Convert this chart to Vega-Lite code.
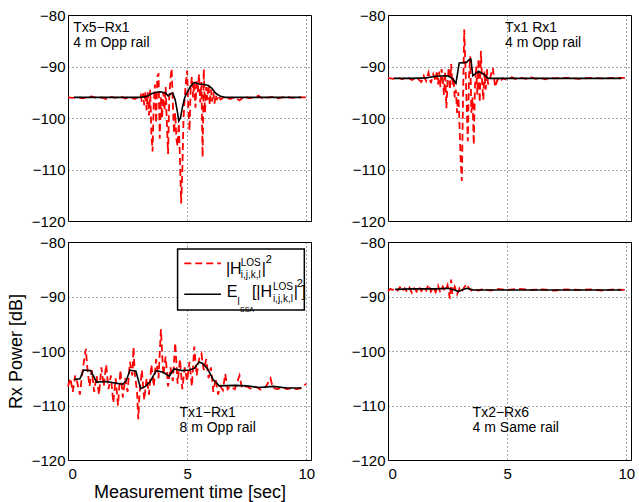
{
  "$schema": "https://vega.github.io/schema/vega-lite/v6.json",
  "padding": {"left": 6, "top": 7, "right": 2, "bottom": 5},
  "background": "white",
  "datasets": {
    "red": [
      {"panel":"A","t":0,"p":-96.0},{"panel":"A","t":0.2,"p":-96.1},{"panel":"A","t":0.4,"p":-95.9},{"panel":"A","t":0.6,"p":-96.2},{"panel":"A","t":0.8,"p":-96.0},{"panel":"A","t":1.0,"p":-95.8},{"panel":"A","t":1.2,"p":-96.1},{"panel":"A","t":1.4,"p":-96.0},{"panel":"A","t":1.6,"p":-96.3},{"panel":"A","t":1.8,"p":-95.9},{"panel":"A","t":2.0,"p":-96.1},{"panel":"A","t":2.2,"p":-95.8},{"panel":"A","t":2.4,"p":-96.2},{"panel":"A","t":2.6,"p":-95.9},{"panel":"A","t":2.8,"p":-96.3},{"panel":"A","t":3.0,"p":-95.8},{"panel":"A","t":3.05,"p":-95.5},{"panel":"A","t":3.1,"p":-96.8},{"panel":"A","t":3.15,"p":-95.2},{"panel":"A","t":3.2,"p":-97.5},{"panel":"A","t":3.25,"p":-94.8},{"panel":"A","t":3.3,"p":-98.5},{"panel":"A","t":3.35,"p":-95.0},{"panel":"A","t":3.4,"p":-99.5},{"panel":"A","t":3.45,"p":-94.5},{"panel":"A","t":3.5,"p":-103},{"panel":"A","t":3.55,"p":-106.5},{"panel":"A","t":3.6,"p":-97},{"panel":"A","t":3.65,"p":-93.5},{"panel":"A","t":3.7,"p":-101},{"panel":"A","t":3.75,"p":-92},{"panel":"A","t":3.8,"p":-91.3},{"panel":"A","t":3.85,"p":-104},{"panel":"A","t":3.9,"p":-96},{"panel":"A","t":3.95,"p":-100},{"panel":"A","t":4.0,"p":-95},{"panel":"A","t":4.05,"p":-98.5},{"panel":"A","t":4.1,"p":-94},{"panel":"A","t":4.15,"p":-101},{"panel":"A","t":4.2,"p":-107},{"panel":"A","t":4.25,"p":-96},{"panel":"A","t":4.3,"p":-92.5},{"panel":"A","t":4.35,"p":-90.4},{"panel":"A","t":4.4,"p":-97},{"panel":"A","t":4.45,"p":-103},{"panel":"A","t":4.5,"p":-99},{"panel":"A","t":4.55,"p":-104},{"panel":"A","t":4.6,"p":-105.5},{"panel":"A","t":4.65,"p":-101},{"panel":"A","t":4.7,"p":-108},{"panel":"A","t":4.75,"p":-116.6},{"panel":"A","t":4.8,"p":-110},{"panel":"A","t":4.85,"p":-100},{"panel":"A","t":4.9,"p":-96},{"panel":"A","t":4.95,"p":-93},{"panel":"A","t":5.0,"p":-90.8},{"panel":"A","t":5.05,"p":-98},{"panel":"A","t":5.1,"p":-102.5},{"panel":"A","t":5.15,"p":-94},{"panel":"A","t":5.2,"p":-92},{"panel":"A","t":5.25,"p":-96},{"panel":"A","t":5.3,"p":-93},{"panel":"A","t":5.35,"p":-98},{"panel":"A","t":5.4,"p":-92.5},{"panel":"A","t":5.45,"p":-95},{"panel":"A","t":5.5,"p":-91.5},{"panel":"A","t":5.55,"p":-97},{"panel":"A","t":5.6,"p":-93},{"panel":"A","t":5.65,"p":-107.6},{"panel":"A","t":5.7,"p":-90.5},{"panel":"A","t":5.75,"p":-99},{"panel":"A","t":5.8,"p":-94},{"panel":"A","t":5.85,"p":-96.5},{"panel":"A","t":5.9,"p":-93.5},{"panel":"A","t":5.95,"p":-97.5},{"panel":"A","t":6.0,"p":-94.5},{"panel":"A","t":6.05,"p":-96.8},{"panel":"A","t":6.1,"p":-95},{"panel":"A","t":6.15,"p":-97.2},{"panel":"A","t":6.2,"p":-95.5},{"panel":"A","t":6.25,"p":-96.5},{"panel":"A","t":6.3,"p":-95.6},{"panel":"A","t":6.4,"p":-96.4},{"panel":"A","t":6.6,"p":-95.8},{"panel":"A","t":6.8,"p":-96.3},{"panel":"A","t":7.0,"p":-96.0},{"panel":"A","t":7.2,"p":-96.6},{"panel":"A","t":7.4,"p":-95.8},{"panel":"A","t":7.6,"p":-96.2},{"panel":"A","t":7.8,"p":-96.0},{"panel":"A","t":8.0,"p":-95.7},{"panel":"A","t":8.2,"p":-96.3},{"panel":"A","t":8.4,"p":-96.0},{"panel":"A","t":8.6,"p":-95.9},{"panel":"A","t":8.8,"p":-96.2},{"panel":"A","t":9.0,"p":-96.0},{"panel":"A","t":9.2,"p":-95.9},{"panel":"A","t":9.4,"p":-96.1},{"panel":"A","t":9.6,"p":-96.0},{"panel":"A","t":9.8,"p":-96.0},{"panel":"A","t":10.0,"p":-96.0},

      {"panel":"B","t":0,"p":-92.2},{"panel":"B","t":0.2,"p":-92.4},{"panel":"B","t":0.4,"p":-92.1},{"panel":"B","t":0.6,"p":-92.5},{"panel":"B","t":0.8,"p":-92.0},{"panel":"B","t":1.0,"p":-92.6},{"panel":"B","t":1.2,"p":-92.2},{"panel":"B","t":1.4,"p":-93.0},{"panel":"B","t":1.5,"p":-91.8},{"panel":"B","t":1.6,"p":-92.8},{"panel":"B","t":1.7,"p":-91.2},{"panel":"B","t":1.8,"p":-93.2},{"panel":"B","t":1.9,"p":-91.5},{"panel":"B","t":2.0,"p":-92.9},{"panel":"B","t":2.05,"p":-90.8},{"panel":"B","t":2.1,"p":-93.5},{"panel":"B","t":2.15,"p":-91.0},{"panel":"B","t":2.2,"p":-94.0},{"panel":"B","t":2.25,"p":-90.5},{"panel":"B","t":2.3,"p":-92.5},{"panel":"B","t":2.35,"p":-95.5},{"panel":"B","t":2.4,"p":-91.0},{"panel":"B","t":2.45,"p":-98.1},{"panel":"B","t":2.5,"p":-93.0},{"panel":"B","t":2.55,"p":-90.2},{"panel":"B","t":2.6,"p":-94.5},{"panel":"B","t":2.65,"p":-89.5},{"panel":"B","t":2.7,"p":-93.5},{"panel":"B","t":2.75,"p":-92.0},{"panel":"B","t":2.8,"p":-96.0},{"panel":"B","t":2.85,"p":-94.5},{"panel":"B","t":2.9,"p":-99.0},{"panel":"B","t":2.95,"p":-95.0},{"panel":"B","t":3.0,"p":-101.0},{"panel":"B","t":3.05,"p":-108.0},{"panel":"B","t":3.1,"p":-112.2},{"panel":"B","t":3.15,"p":-96.0},{"panel":"B","t":3.2,"p":-82.8},{"panel":"B","t":3.25,"p":-90.0},{"panel":"B","t":3.3,"p":-97.0},{"panel":"B","t":3.35,"p":-104.5},{"panel":"B","t":3.4,"p":-92.0},{"panel":"B","t":3.45,"p":-88.0},{"panel":"B","t":3.5,"p":-99.0},{"panel":"B","t":3.55,"p":-96.0},{"panel":"B","t":3.6,"p":-105.2},{"panel":"B","t":3.65,"p":-94.0},{"panel":"B","t":3.7,"p":-90.0},{"panel":"B","t":3.75,"p":-95.5},{"panel":"B","t":3.8,"p":-88.5},{"panel":"B","t":3.85,"p":-97.0},{"panel":"B","t":3.9,"p":-87.0},{"panel":"B","t":3.95,"p":-93.0},{"panel":"B","t":4.0,"p":-96.5},{"panel":"B","t":4.05,"p":-91.0},{"panel":"B","t":4.1,"p":-94.5},{"panel":"B","t":4.15,"p":-90.5},{"panel":"B","t":4.2,"p":-93.5},{"panel":"B","t":4.3,"p":-92.0},{"panel":"B","t":4.4,"p":-90.3},{"panel":"B","t":4.5,"p":-94.0},{"panel":"B","t":4.6,"p":-92.5},{"panel":"B","t":4.7,"p":-93.0},{"panel":"B","t":4.8,"p":-92.3},{"panel":"B","t":5.0,"p":-92.6},{"panel":"B","t":5.2,"p":-92.1},{"panel":"B","t":5.4,"p":-92.5},{"panel":"B","t":5.6,"p":-92.2},{"panel":"B","t":5.8,"p":-92.4},{"panel":"B","t":6.0,"p":-92.1},{"panel":"B","t":6.2,"p":-92.4},{"panel":"B","t":6.4,"p":-92.2},{"panel":"B","t":6.6,"p":-92.5},{"panel":"B","t":6.8,"p":-92.2},{"panel":"B","t":7.0,"p":-92.3},{"panel":"B","t":7.5,"p":-92.2},{"panel":"B","t":8.0,"p":-92.4},{"panel":"B","t":8.5,"p":-92.2},{"panel":"B","t":9.0,"p":-92.3},{"panel":"B","t":9.5,"p":-92.2},{"panel":"B","t":10.0,"p":-92.2},

      {"panel":"C","t":0,"p":-106.5},{"panel":"C","t":0.1,"p":-105},{"panel":"C","t":0.2,"p":-107.5},{"panel":"C","t":0.3,"p":-104.5},{"panel":"C","t":0.4,"p":-106},{"panel":"C","t":0.5,"p":-108},{"panel":"C","t":0.6,"p":-104},{"panel":"C","t":0.7,"p":-101},{"panel":"C","t":0.75,"p":-99.6},{"panel":"C","t":0.8,"p":-102.5},{"panel":"C","t":0.9,"p":-106.5},{"panel":"C","t":1.0,"p":-103.5},{"panel":"C","t":1.1,"p":-107.5},{"panel":"C","t":1.2,"p":-104.5},{"panel":"C","t":1.3,"p":-108},{"panel":"C","t":1.4,"p":-103},{"panel":"C","t":1.5,"p":-106.5},{"panel":"C","t":1.6,"p":-102.5},{"panel":"C","t":1.7,"p":-107},{"panel":"C","t":1.8,"p":-104.5},{"panel":"C","t":1.9,"p":-109.5},{"panel":"C","t":2.0,"p":-105},{"panel":"C","t":2.1,"p":-110},{"panel":"C","t":2.2,"p":-103.5},{"panel":"C","t":2.3,"p":-108.5},{"panel":"C","t":2.4,"p":-105},{"panel":"C","t":2.5,"p":-107.5},{"panel":"C","t":2.6,"p":-102},{"panel":"C","t":2.7,"p":-104.5},{"panel":"C","t":2.75,"p":-99.3},{"panel":"C","t":2.8,"p":-104},{"panel":"C","t":2.9,"p":-107.5},{"panel":"C","t":2.95,"p":-112.5},{"panel":"C","t":3.0,"p":-108},{"panel":"C","t":3.1,"p":-103.5},{"panel":"C","t":3.2,"p":-109},{"panel":"C","t":3.3,"p":-105},{"panel":"C","t":3.4,"p":-108},{"panel":"C","t":3.5,"p":-102.5},{"panel":"C","t":3.6,"p":-106.5},{"panel":"C","t":3.7,"p":-101.5},{"panel":"C","t":3.8,"p":-105},{"panel":"C","t":3.9,"p":-96.0},{"panel":"C","t":4.0,"p":-104.5},{"panel":"C","t":4.1,"p":-101},{"panel":"C","t":4.2,"p":-106.5},{"panel":"C","t":4.3,"p":-103},{"panel":"C","t":4.4,"p":-105.5},{"panel":"C","t":4.5,"p":-98.5},{"panel":"C","t":4.6,"p":-106},{"panel":"C","t":4.7,"p":-101.5},{"panel":"C","t":4.8,"p":-107},{"panel":"C","t":4.9,"p":-103},{"panel":"C","t":5.0,"p":-105.5},{"panel":"C","t":5.1,"p":-102},{"panel":"C","t":5.2,"p":-106.5},{"panel":"C","t":5.3,"p":-99.2},{"panel":"C","t":5.4,"p":-104.5},{"panel":"C","t":5.5,"p":-101.5},{"panel":"C","t":5.6,"p":-100.5},{"panel":"C","t":5.7,"p":-103.5},{"panel":"C","t":5.8,"p":-101.5},{"panel":"C","t":5.9,"p":-105},{"panel":"C","t":6.0,"p":-103},{"panel":"C","t":6.1,"p":-107.5},{"panel":"C","t":6.2,"p":-105},{"panel":"C","t":6.3,"p":-108},{"panel":"C","t":6.4,"p":-106.5},{"panel":"C","t":6.5,"p":-107.2},{"panel":"C","t":6.6,"p":-104.2},{"panel":"C","t":6.7,"p":-107},{"panel":"C","t":6.8,"p":-106.5},{"panel":"C","t":7.0,"p":-107},{"panel":"C","t":7.2,"p":-104.5},{"panel":"C","t":7.3,"p":-106.8},{"panel":"C","t":7.5,"p":-106.5},{"panel":"C","t":7.7,"p":-107},{"panel":"C","t":7.9,"p":-106.6},{"panel":"C","t":8.1,"p":-107.1},{"panel":"C","t":8.3,"p":-106.6},{"panel":"C","t":8.5,"p":-105},{"panel":"C","t":8.6,"p":-106.8},{"panel":"C","t":8.8,"p":-107},{"panel":"C","t":9.0,"p":-106.7},{"panel":"C","t":9.2,"p":-107},{"panel":"C","t":9.4,"p":-106.8},{"panel":"C","t":9.6,"p":-107},{"panel":"C","t":9.8,"p":-106.8},{"panel":"C","t":10.0,"p":-106},

      {"panel":"D","t":0,"p":-89.0},{"panel":"D","t":0.1,"p":-88.6},{"panel":"D","t":0.2,"p":-88.8},{"panel":"D","t":0.3,"p":-88.4},{"panel":"D","t":0.4,"p":-88.9},{"panel":"D","t":0.5,"p":-88.3},{"panel":"D","t":0.6,"p":-89.0},{"panel":"D","t":0.7,"p":-88.5},{"panel":"D","t":0.8,"p":-89.2},{"panel":"D","t":0.9,"p":-88.4},{"panel":"D","t":1.0,"p":-89.3},{"panel":"D","t":1.1,"p":-88.5},{"panel":"D","t":1.2,"p":-89.1},{"panel":"D","t":1.3,"p":-88.2},{"panel":"D","t":1.4,"p":-89.0},{"panel":"D","t":1.5,"p":-88.3},{"panel":"D","t":1.6,"p":-88.9},{"panel":"D","t":1.7,"p":-87.8},{"panel":"D","t":1.8,"p":-89.1},{"panel":"D","t":1.9,"p":-88.3},{"panel":"D","t":2.0,"p":-89.2},{"panel":"D","t":2.1,"p":-88.0},{"panel":"D","t":2.2,"p":-89.3},{"panel":"D","t":2.3,"p":-88.2},{"panel":"D","t":2.4,"p":-89.0},{"panel":"D","t":2.5,"p":-87.9},{"panel":"D","t":2.6,"p":-90.4},{"panel":"D","t":2.65,"p":-86.9},{"panel":"D","t":2.7,"p":-89.5},{"panel":"D","t":2.8,"p":-88.2},{"panel":"D","t":2.9,"p":-89.6},{"panel":"D","t":3.0,"p":-88.5},{"panel":"D","t":3.1,"p":-89.1},{"panel":"D","t":3.2,"p":-88.3},{"panel":"D","t":3.3,"p":-87.7},{"panel":"D","t":3.4,"p":-88.5},{"panel":"D","t":3.5,"p":-88.9},{"panel":"D","t":3.6,"p":-88.6},{"panel":"D","t":3.8,"p":-88.9},{"panel":"D","t":4.0,"p":-88.6},{"panel":"D","t":4.3,"p":-88.9},{"panel":"D","t":4.6,"p":-88.6},{"panel":"D","t":5.0,"p":-88.8},{"panel":"D","t":5.5,"p":-88.6},{"panel":"D","t":6.0,"p":-88.8},{"panel":"D","t":6.5,"p":-88.7},{"panel":"D","t":7.0,"p":-88.9},{"panel":"D","t":7.5,"p":-88.7},{"panel":"D","t":8.0,"p":-88.8},{"panel":"D","t":8.5,"p":-88.7},{"panel":"D","t":9.0,"p":-88.9},{"panel":"D","t":9.5,"p":-88.7},{"panel":"D","t":10.0,"p":-88.8}
    ],
    "black": [
      {"panel":"A","t":0.25,"p":-96},{"panel":"A","t":1,"p":-96},{"panel":"A","t":2,"p":-96},{"panel":"A","t":3,"p":-96},{"panel":"A","t":3.3,"p":-95.8},{"panel":"A","t":3.5,"p":-95.3},{"panel":"A","t":3.7,"p":-95.0},{"panel":"A","t":3.9,"p":-94.9},{"panel":"A","t":4.1,"p":-95.2},{"panel":"A","t":4.2,"p":-95.7},{"panel":"A","t":4.3,"p":-95.3},{"panel":"A","t":4.4,"p":-95.2},{"panel":"A","t":4.5,"p":-96.5},{"panel":"A","t":4.6,"p":-99},{"panel":"A","t":4.65,"p":-100.6},{"panel":"A","t":4.72,"p":-100},{"panel":"A","t":4.8,"p":-98},{"panel":"A","t":4.9,"p":-96},{"panel":"A","t":5.0,"p":-95},{"panel":"A","t":5.15,"p":-93.8},{"panel":"A","t":5.3,"p":-93.1},{"panel":"A","t":5.5,"p":-93.4},{"panel":"A","t":5.7,"p":-93.5},{"panel":"A","t":5.9,"p":-93.7},{"panel":"A","t":6.05,"p":-94.3},{"panel":"A","t":6.2,"p":-95.2},{"panel":"A","t":6.4,"p":-95.8},{"panel":"A","t":6.6,"p":-96},{"panel":"A","t":7,"p":-96},{"panel":"A","t":8,"p":-96},{"panel":"A","t":9,"p":-96},{"panel":"A","t":9.8,"p":-96},

      {"panel":"B","t":0.25,"p":-92.3},{"panel":"B","t":1,"p":-92.3},{"panel":"B","t":1.6,"p":-92.2},{"panel":"B","t":2.0,"p":-91.9},{"panel":"B","t":2.5,"p":-91.8},{"panel":"B","t":2.7,"p":-92.3},{"panel":"B","t":2.85,"p":-93.3},{"panel":"B","t":2.99,"p":-89.3},{"panel":"B","t":3.3,"p":-89.2},{"panel":"B","t":3.4,"p":-88.7},{"panel":"B","t":3.48,"p":-88.6},{"panel":"B","t":3.56,"p":-91.8},{"panel":"B","t":3.8,"p":-90.9},{"panel":"B","t":4.05,"p":-91.6},{"panel":"B","t":4.2,"p":-92.3},{"panel":"B","t":5,"p":-92.3},{"panel":"B","t":7,"p":-92.3},{"panel":"B","t":9.8,"p":-92.3},

      {"panel":"C","t":0.27,"p":-105.2},{"panel":"C","t":0.5,"p":-105.1},{"panel":"C","t":0.65,"p":-103.5},{"panel":"C","t":0.95,"p":-103.6},{"panel":"C","t":1.2,"p":-105.7},{"panel":"C","t":1.6,"p":-105.6},{"panel":"C","t":2.0,"p":-105.9},{"panel":"C","t":2.3,"p":-106.1},{"panel":"C","t":2.45,"p":-105.4},{"panel":"C","t":2.6,"p":-103.5},{"panel":"C","t":2.85,"p":-103.7},{"panel":"C","t":3.05,"p":-106.9},{"panel":"C","t":3.25,"p":-106.5},{"panel":"C","t":3.45,"p":-105.6},{"panel":"C","t":3.7,"p":-103.6},{"panel":"C","t":4.0,"p":-103.9},{"panel":"C","t":4.25,"p":-104.6},{"panel":"C","t":4.45,"p":-103.3},{"panel":"C","t":4.8,"p":-103.6},{"panel":"C","t":5.1,"p":-103.5},{"panel":"C","t":5.3,"p":-103.2},{"panel":"C","t":5.5,"p":-102.0},{"panel":"C","t":5.65,"p":-102.3},{"panel":"C","t":5.85,"p":-103.2},{"panel":"C","t":6.1,"p":-105.3},{"panel":"C","t":6.35,"p":-106.4},{"panel":"C","t":7.0,"p":-106.3},{"panel":"C","t":7.5,"p":-106.4},{"panel":"C","t":8.0,"p":-106.7},{"panel":"C","t":8.6,"p":-106.5},{"panel":"C","t":9.2,"p":-106.8},{"panel":"C","t":9.8,"p":-106.8},

      {"panel":"D","t":0.3,"p":-88.7},{"panel":"D","t":1,"p":-88.6},{"panel":"D","t":2,"p":-88.6},{"panel":"D","t":2.5,"p":-88.5},{"panel":"D","t":2.8,"p":-88.8},{"panel":"D","t":2.95,"p":-89.1},{"panel":"D","t":3.1,"p":-88.8},{"panel":"D","t":3.3,"p":-88.5},{"panel":"D","t":3.6,"p":-88.8},{"panel":"D","t":5,"p":-88.8},{"panel":"D","t":9.8,"p":-88.8}
    ]
  },
  "columns": 2,
  "bounds": "flush",
  "spacing": {"row": 21, "column": 77},
  "concat": [
    {
      "width": 243, "height": 206,
      "layer": [
        {"data": {"name": "red"}, "transform": [{"filter": "datum.panel == 'A'"}],
         "mark": {"type": "line", "stroke": "#ff0000", "strokeDash": [7, 4], "strokeWidth": 1.8},
         "encoding": {
           "x": {"field": "t", "type": "quantitative", "scale": {"domain": [0, 10.2], "nice": false}, "axis": {"values": [0, 5, 10], "labels": false, "title": null}},
           "y": {"field": "p", "type": "quantitative", "scale": {"domain": [-120, -80], "nice": false}, "axis": {"values": [-120, -110, -100, -90, -80], "title": null}}}},
        {"data": {"name": "black"}, "transform": [{"filter": "datum.panel == 'A'"}],
         "mark": {"type": "line", "stroke": "black", "strokeWidth": 1.6},
         "encoding": {"x": {"field": "t", "type": "quantitative"}, "y": {"field": "p", "type": "quantitative"}}},
        {"data": {"values": [{}]},
         "mark": {"type": "text", "align": "left", "baseline": "alphabetic", "fontSize": 14, "lineHeight": 15, "text": ["Tx5−Rx1", "4 m Opp rail"]},
         "encoding": {"x": {"datum": 0.22}, "y": {"datum": -83.3}}}
      ]
    },
    {
      "width": 243, "height": 206,
      "layer": [
        {"data": {"name": "red"}, "transform": [{"filter": "datum.panel == 'B'"}],
         "mark": {"type": "line", "stroke": "#ff0000", "strokeDash": [7, 4], "strokeWidth": 1.8},
         "encoding": {
           "x": {"field": "t", "type": "quantitative", "scale": {"domain": [0, 10.2], "nice": false}, "axis": {"values": [0, 5, 10], "labels": false, "title": null}},
           "y": {"field": "p", "type": "quantitative", "scale": {"domain": [-120, -80], "nice": false}, "axis": {"values": [-120, -110, -100, -90, -80], "title": null}}}},
        {"data": {"name": "black"}, "transform": [{"filter": "datum.panel == 'B'"}],
         "mark": {"type": "line", "stroke": "black", "strokeWidth": 1.6},
         "encoding": {"x": {"field": "t", "type": "quantitative"}, "y": {"field": "p", "type": "quantitative"}}},
        {"data": {"values": [{}]},
         "mark": {"type": "text", "align": "left", "baseline": "alphabetic", "fontSize": 14, "lineHeight": 15, "text": ["Tx1 Rx1", "4 m Opp rail"]},
         "encoding": {"x": {"datum": 4.91}, "y": {"datum": -83.3}}}
      ]
    },
    {
      "width": 243, "height": 218,
      "layer": [
        {"data": {"name": "red"}, "transform": [{"filter": "datum.panel == 'C'"}],
         "mark": {"type": "line", "stroke": "#ff0000", "strokeDash": [7, 4], "strokeWidth": 1.8},
         "encoding": {
           "x": {"field": "t", "type": "quantitative", "scale": {"domain": [0, 10.2], "nice": false}, "axis": {"values": [0, 5, 10], "title": "Measurement time [sec]"}},
           "y": {"field": "p", "type": "quantitative", "scale": {"domain": [-120, -80], "nice": false}, "axis": {"values": [-120, -110, -100, -90, -80], "title": "Rx Power [dB]"}}}},
        {"data": {"name": "black"}, "transform": [{"filter": "datum.panel == 'C'"}],
         "mark": {"type": "line", "stroke": "black", "strokeWidth": 1.6},
         "encoding": {"x": {"field": "t", "type": "quantitative"}, "y": {"field": "p", "type": "quantitative"}}},
        {"data": {"values": [{}]},
         "mark": {"type": "text", "align": "left", "baseline": "alphabetic", "fontSize": 14, "lineHeight": 15, "text": ["Tx1−Rx1", "8 m Opp rail"]},
         "encoding": {"x": {"datum": 4.68}, "y": {"datum": -112.06}}},
        {"data": {"values": [{}]},
         "mark": {"type": "rect", "fill": "white", "stroke": "black", "strokeWidth": 1.5},
         "encoding": {"x": {"datum": 4.6}, "x2": {"datum": 9.92}, "y": {"datum": -81.28}, "y2": {"datum": -92.48}}},
        {"data": {"values": [{}]},
         "mark": {"type": "rule", "stroke": "#ff0000", "strokeDash": [7, 4], "strokeWidth": 1.8},
         "encoding": {"x": {"datum": 4.88}, "x2": {"datum": 6.42}, "y": {"datum": -83.91}}},
        {"data": {"values": [{}]},
         "mark": {"type": "rule", "stroke": "black", "strokeWidth": 1.6},
         "encoding": {"x": {"datum": 4.88}, "x2": {"datum": 6.42}, "y": {"datum": -89.6}}},
        {"data": {"values": [{}]}, "mark": {"type": "text", "align": "left", "baseline": "alphabetic", "fontSize": 16, "text": "|H"}, "encoding": {"x": {"datum": 6.63}, "y": {"datum": -85.93}}},
        {"data": {"values": [{}]}, "mark": {"type": "text", "align": "left", "baseline": "alphabetic", "fontSize": 10, "text": "LOS"}, "encoding": {"x": {"datum": 7.25}, "y": {"datum": -84.35}}},
        {"data": {"values": [{}]}, "mark": {"type": "text", "align": "left", "baseline": "alphabetic", "fontSize": 10, "text": "i,j,k,l"}, "encoding": {"x": {"datum": 7.25}, "y": {"datum": -86.66}}},
        {"data": {"values": [{}]}, "mark": {"type": "text", "align": "left", "baseline": "alphabetic", "fontSize": 16, "text": "|"}, "encoding": {"x": {"datum": 8.13}, "y": {"datum": -85.93}}},
        {"data": {"values": [{}]}, "mark": {"type": "text", "align": "left", "baseline": "alphabetic", "fontSize": 11, "text": "2"}, "encoding": {"x": {"datum": 8.3}, "y": {"datum": -83.91}}},
        {"data": {"values": [{}]}, "mark": {"type": "text", "align": "left", "baseline": "alphabetic", "fontSize": 16, "text": "E"}, "encoding": {"x": {"datum": 6.66}, "y": {"datum": -90.04}}},
        {"data": {"values": [{}]}, "mark": {"type": "text", "align": "left", "baseline": "alphabetic", "fontSize": 10, "text": "l"}, "encoding": {"x": {"datum": 7.12}, "y": {"datum": -91.56}}},
        {"data": {"values": [{}]}, "mark": {"type": "text", "align": "left", "baseline": "alphabetic", "fontSize": 7, "text": "SSA"}, "encoding": {"x": {"datum": 7.22}, "y": {"datum": -92.79}}},
        {"data": {"values": [{}]}, "mark": {"type": "text", "align": "left", "baseline": "alphabetic", "fontSize": 16, "text": "[|H"}, "encoding": {"x": {"datum": 7.72}, "y": {"datum": -90.04}}},
        {"data": {"values": [{}]}, "mark": {"type": "text", "align": "left", "baseline": "alphabetic", "fontSize": 10, "text": "LOS"}, "encoding": {"x": {"datum": 8.6}, "y": {"datum": -88.81}}},
        {"data": {"values": [{}]}, "mark": {"type": "text", "align": "left", "baseline": "alphabetic", "fontSize": 10, "text": "i,j,k,l"}, "encoding": {"x": {"datum": 8.6}, "y": {"datum": -90.95}}},
        {"data": {"values": [{}]}, "mark": {"type": "text", "align": "left", "baseline": "alphabetic", "fontSize": 16, "text": "|"}, "encoding": {"x": {"datum": 9.48}, "y": {"datum": -90.04}}},
        {"data": {"values": [{}]}, "mark": {"type": "text", "align": "left", "baseline": "alphabetic", "fontSize": 11, "text": "2"}, "encoding": {"x": {"datum": 9.6}, "y": {"datum": -88.26}}},
        {"data": {"values": [{}]}, "mark": {"type": "text", "align": "left", "baseline": "alphabetic", "fontSize": 16, "text": "]"}, "encoding": {"x": {"datum": 9.8}, "y": {"datum": -90.04}}}
      ]
    },
    {
      "width": 243, "height": 218,
      "layer": [
        {"data": {"name": "red"}, "transform": [{"filter": "datum.panel == 'D'"}],
         "mark": {"type": "line", "stroke": "#ff0000", "strokeDash": [7, 4], "strokeWidth": 1.8},
         "encoding": {
           "x": {"field": "t", "type": "quantitative", "scale": {"domain": [0, 10.2], "nice": false}, "axis": {"values": [0, 5, 10], "title": null}},
           "y": {"field": "p", "type": "quantitative", "scale": {"domain": [-120, -80], "nice": false}, "axis": {"values": [-120, -110, -100, -90, -80], "title": null}}}},
        {"data": {"name": "black"}, "transform": [{"filter": "datum.panel == 'D'"}],
         "mark": {"type": "line", "stroke": "black", "strokeWidth": 1.6},
         "encoding": {"x": {"field": "t", "type": "quantitative"}, "y": {"field": "p", "type": "quantitative"}}},
        {"data": {"values": [{}]},
         "mark": {"type": "text", "align": "left", "baseline": "alphabetic", "fontSize": 14, "lineHeight": 15, "text": ["Tx2−Rx6", "4 m Same rail"]},
         "encoding": {"x": {"datum": 3.55}, "y": {"datum": -112.06}}}
      ]
    }
  ],
  "config": {
    "font": "Liberation Sans",
    "view": {"stroke": "black", "strokeWidth": 1},
    "text": {"font": "Liberation Sans", "color": "black"},
    "axis": {
      "labelFont": "Liberation Sans", "labelFontSize": 15, "labelColor": "black",
      "titleFont": "Liberation Sans", "titleFontSize": 18, "titleFontWeight": "normal", "titleColor": "black",
      "grid": true, "gridColor": "black", "gridDash": [1, 3], "gridOpacity": 0.7, "gridWidth": 1,
      "domain": false, "ticks": false
    },
    "axisX": {"labelPadding": 6, "titlePadding": 2},
    "axisY": {"labelPadding": 3, "titlePadding": 6}
  }
}
